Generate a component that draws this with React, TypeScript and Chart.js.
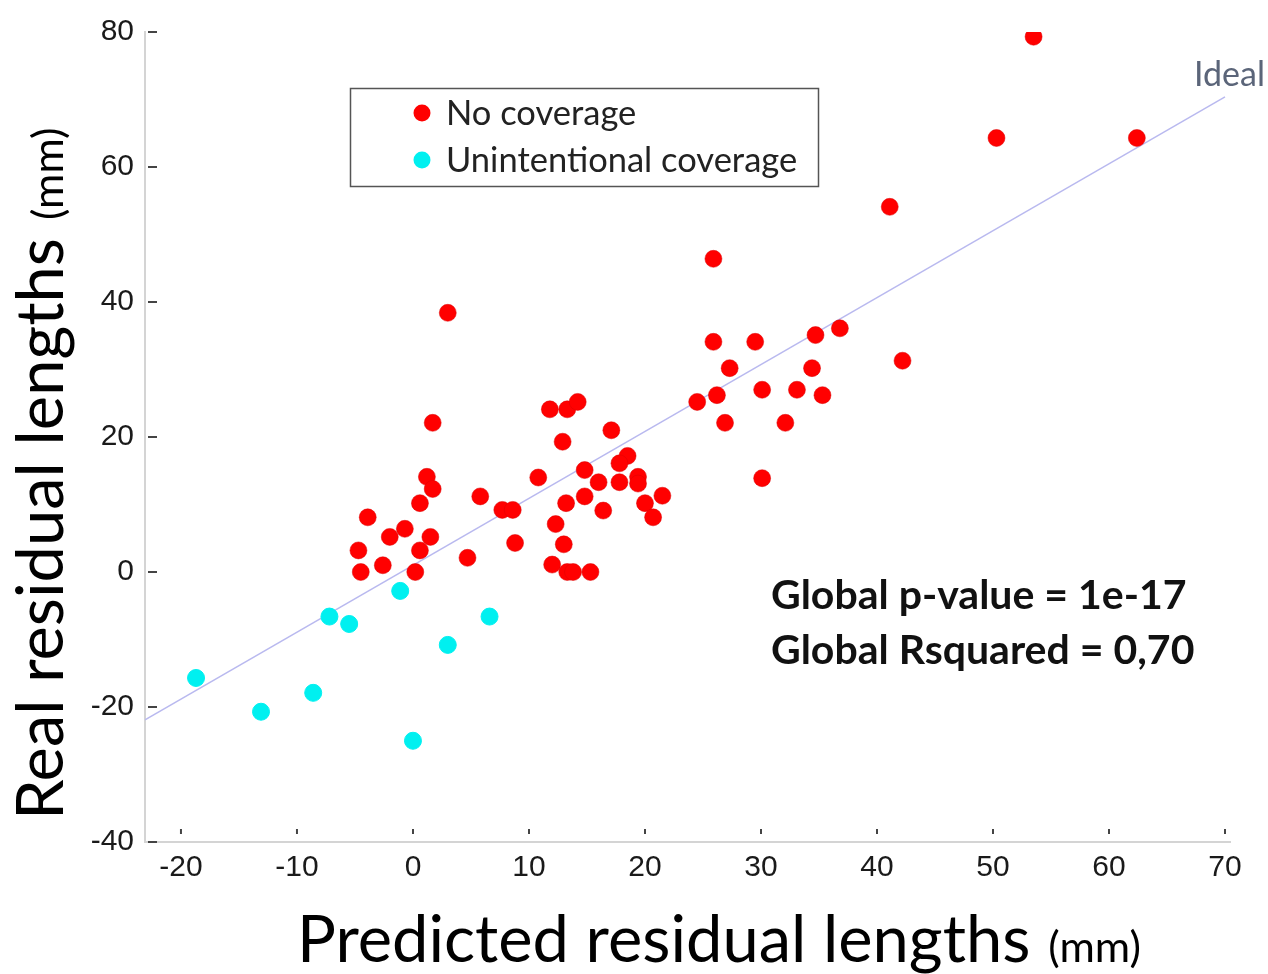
import React, { useEffect, useRef } from "react";
import { Chart, registerables } from "chart.js";

Chart.register(...registerables);

const noCoverageX = [
  53.5, 50.3, 62.4, 41.1, 25.9, 3.0, 25.9, 29.5, 36.8, 34.7, 42.2, 27.3, 34.4, 24.5, 26.2, 30.1, 33.1, 35.3, 26.9, 32.1, 30.1,
  1.7, 11.8, 13.3, 14.2, 17.1, 12.9, 1.2, 1.7, 10.8, 5.8, 0.6, -3.9, -0.7, -2.0, 1.5, -4.7, 0.6, -2.6, -4.5, 0.2, 4.7,
  7.7, 8.6, 8.8, 14.8, 18.5, 17.8, 16.0, 17.8, 19.4, 19.4, 14.8, 13.2, 16.4, 20.0, 21.5, 20.7, 12.3, 13.0, 12.0, 13.3, 13.8, 15.3,
];
const noCoverageY = [
  79.3, 64.3, 64.3, 54.1, 46.4, 38.4, 34.1, 34.1, 36.1, 35.1, 31.3, 30.2, 30.2, 25.2, 26.2, 27.0, 27.0, 26.2, 22.1, 22.1, 13.9,
  22.1, 24.1, 24.1, 25.2, 21.0, 19.3, 14.1, 12.3, 14.0, 11.2, 10.2, 8.1, 6.4, 5.2, 5.2, 3.2, 3.2, 1.0, 0, 0, 2.1,
  9.2, 9.2, 4.3, 15.1, 17.2, 16.1, 13.3, 13.3, 14.1, 13.1, 11.2, 10.2, 9.1, 10.2, 11.3, 8.1, 7.1, 4.1, 1.1, 0, 0, 0,
];
const unintentionalX = [-18.7, -13.1, -8.6, -7.2, -5.5, -1.1, 0.0, 3.0, 6.6];
const unintentionalY = [-15.7, -20.7, -17.9, -6.6, -7.7, -2.8, -25.0, -10.8, -6.6];
const idealX = [-23.1, 70.0];
const idealY = [-21.9, 70.4];

const xTickValues = [-20, -10, 0, 10, 20, 30, 40, 50, 60, 70];
const yTickValues = [-40, -20, 0, 20, 40, 60, 80];

const seriesNames = ["No coverage", "Unintentional coverage"];
const statLines = ["Global p-value = 1e-17", "Global Rsquared = 0,70"];
const xTitle = "Predicted residual lengths";
const yTitle = "Real residual lengths";
const unitText = "(mm)";
const idealLabel = "Ideal";

const RED = "#ff0000";
const CYAN = "#00f0f0";

const overlayPlugin = {
  id: "overlay",
  afterDraw(chart: any) {
    const ctx = chart.ctx as CanvasRenderingContext2D;
    const xs = chart.scales.x;
    const ys = chart.scales.y;
    const area = chart.chartArea;
    ctx.save();
    // small inner tick marks
    ctx.strokeStyle = "#444";
    ctx.lineWidth = 2;
    yTickValues.forEach((v) => {
      const y = ys.getPixelForValue(v);
      ctx.beginPath();
      ctx.moveTo(area.left + 3, y);
      ctx.lineTo(area.left + 12, y);
      ctx.stroke();
    });
    xTickValues.forEach((v) => {
      const x = xs.getPixelForValue(v);
      ctx.beginPath();
      ctx.moveTo(x, area.bottom - 13);
      ctx.lineTo(x, area.bottom - 8);
      ctx.stroke();
    });

    // legend box
    ctx.strokeStyle = "#555";
    ctx.lineWidth = 1.5;
    ctx.strokeRect(350.5, 88.5, 468, 98);
    const colors = [RED, CYAN];
    const rows = [113, 160];
    ctx.font = "34.5px Lato";
    ctx.textBaseline = "middle";
    ctx.textAlign = "left";
    seriesNames.forEach((name, i) => {
      ctx.fillStyle = colors[i];
      ctx.beginPath();
      ctx.arc(422, rows[i], 8.5, 0, Math.PI * 2);
      ctx.fill();
      ctx.fillStyle = "#222";
      ctx.fillText(name, 446, rows[i] + 1);
    });

    // Ideal label
    ctx.fillStyle = "#5b6579";
    ctx.font = "34px Lato";
    ctx.fillText(idealLabel, 1194, 75);

    // stats
    ctx.fillStyle = "#111";
    ctx.font = "bold 41px Lato";
    ctx.fillText(statLines[0], 771, 596);
    ctx.fillText(statLines[1], 771, 651);

    // x title
    ctx.textBaseline = "alphabetic";
    ctx.fillStyle = "#000";
    ctx.font = "65px Lato";
    ctx.fillText(xTitle, 297, 962);
    const w = ctx.measureText(xTitle).width;
    ctx.font = "43px Lato";
    ctx.fillText(unitText, 297 + w + 18, 962);

    // y title
    ctx.translate(63, 820);
    ctx.rotate(-Math.PI / 2);
    ctx.font = "65px Lato";
    ctx.fillText(yTitle, 0, 0);
    const wy = ctx.measureText(yTitle).width;
    ctx.font = "43px Lato";
    ctx.fillText(unitText, wy + 18, 0);
    ctx.restore();
  },
};

export default function App() {
  const ref = useRef<HTMLCanvasElement | null>(null);
  useEffect(() => {
    if (!ref.current) return;
    const toPts = (xs: number[], ys: number[]) => xs.map((x, i) => ({ x, y: ys[i] }));
    const chart = new Chart(ref.current, {
      type: "scatter",
      data: {
        datasets: [
          {
            label: seriesNames[1],
            data: toPts(unintentionalX, unintentionalY),
            backgroundColor: CYAN,
            borderColor: CYAN,
            pointRadius: 8.5,
            order: 1,
          },
          {
            label: seriesNames[0],
            data: toPts(noCoverageX, noCoverageY),
            backgroundColor: RED,
            borderColor: "#dd0000",
            borderWidth: 0.5,
            pointRadius: 8.5,
            order: 2,
          },
          {
            label: idealLabel,
            type: "line",
            data: toPts(idealX, idealY),
            borderColor: "#b9b9ef",
            borderWidth: 1.5,
            pointRadius: 0,
            order: 3,
          } as any,
        ],
      },
      options: {
        responsive: false,
        animation: false,
        layout: { padding: { left: 0, top: 32, right: 38, bottom: 0 } },
        plugins: { legend: { display: false }, tooltip: { enabled: false } },
        scales: {
          x: {
            type: "linear",
            min: -23.1,
            max: 70.43,
            afterBuildTicks: (s: any) => {
              s.ticks = xTickValues.map((v) => ({ value: v }));
            },
            afterFit: (s: any) => {
              s.height = 132;
            },
            grid: { display: false, drawTicks: false },
            border: { display: true, color: "#d4d4d4", width: 2 },
            ticks: {
              padding: 8,
              color: "#1a1a1a",
              font: { family: "Liberation Sans", size: 30 },
              maxRotation: 0,
            },
          },
          y: {
            type: "linear",
            min: -40,
            max: 80,
            afterBuildTicks: (s: any) => {
              s.ticks = yTickValues.map((v) => ({ value: v }));
            },
            afterFit: (s: any) => {
              s.width = 145;
            },
            grid: { display: false, drawTicks: false },
            border: { display: true, color: "#d4d4d4", width: 2 },
            ticks: {
              padding: 11,
              color: "#1a1a1a",
              font: { family: "Liberation Sans", size: 30 },
            },
          },
        },
      },
      plugins: [overlayPlugin],
    });
    return () => chart.destroy();
  }, []);
  return (
    <div style={{ position: "absolute", left: 0, top: 0, width: 1268, height: 974, background: "#fff" }}>
      <canvas ref={ref} width={1268} height={974} />
    </div>
  );
}
